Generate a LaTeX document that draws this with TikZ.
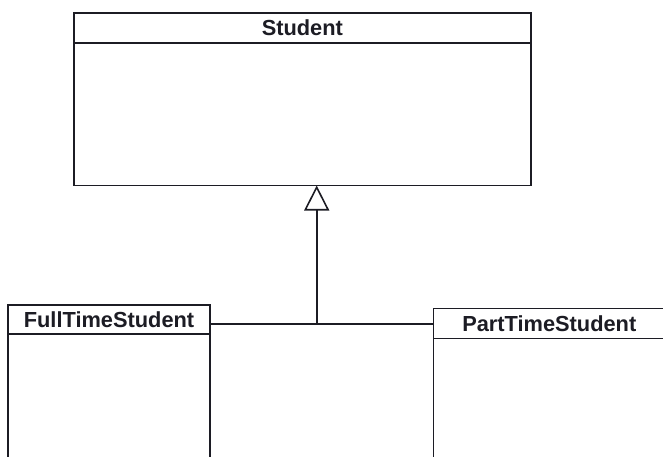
\documentclass[tikz,border=0pt]{standalone}
\usepackage{fontspec}
\setmainfont{Liberation Sans}
\usetikzlibrary{arrows.meta,calc}
\definecolor{ink}{HTML}{1C1C24}
\tikzset{
  hdr/.style={draw=ink, line width=1.6pt, fill=white, anchor=north west, inner sep=0pt, outer sep=0pt,
    font=\fontsize{21.8}{25}\selectfont\bfseries, text=ink},
  bodybox/.style={draw=ink, line width=1.6pt, fill=white, anchor=north, inner sep=0pt, outer sep=0pt},
  link/.style={draw=ink, line width=1.6pt},
  gen/.style={link, -{Triangle[open, length=25pt, width=25pt, line width=1.6pt]}}
}
\begin{document}
\begin{tikzpicture}[x=1pt,y=-1pt]
\clip (0,0) rectangle (663,456);
\fill[white] (0,0) rectangle (663,456);
% Student
\node[hdr, minimum width=456.7pt, minimum height=30pt] (student) at (74,12.7) {Student};
\node[bodybox, minimum width=456.7pt, minimum height=142.8pt] (studentbody) at (student.south) {};
% FullTimeStudent
\node[hdr, minimum width=202pt, minimum height=29pt] (fts) at (8,305) {FullTimeStudent};
\node[bodybox, minimum width=202pt, minimum height=140pt] (ftsbody) at (fts.south) {};
% PartTimeStudent
\node[hdr, minimum width=232pt, minimum height=30pt] (pts) at (433.3,308.3) {PartTimeStudent};
\node[bodybox, minimum width=232pt, minimum height=140pt] (ptsbody) at (pts.south) {};
% generalization
\coordinate (j) at (316.7,323.8);
\draw[link] (fts.east |- j) -- (pts.west |- j);
\draw[gen] (j) -- (j |- studentbody.south);
\end{tikzpicture}
\end{document}
